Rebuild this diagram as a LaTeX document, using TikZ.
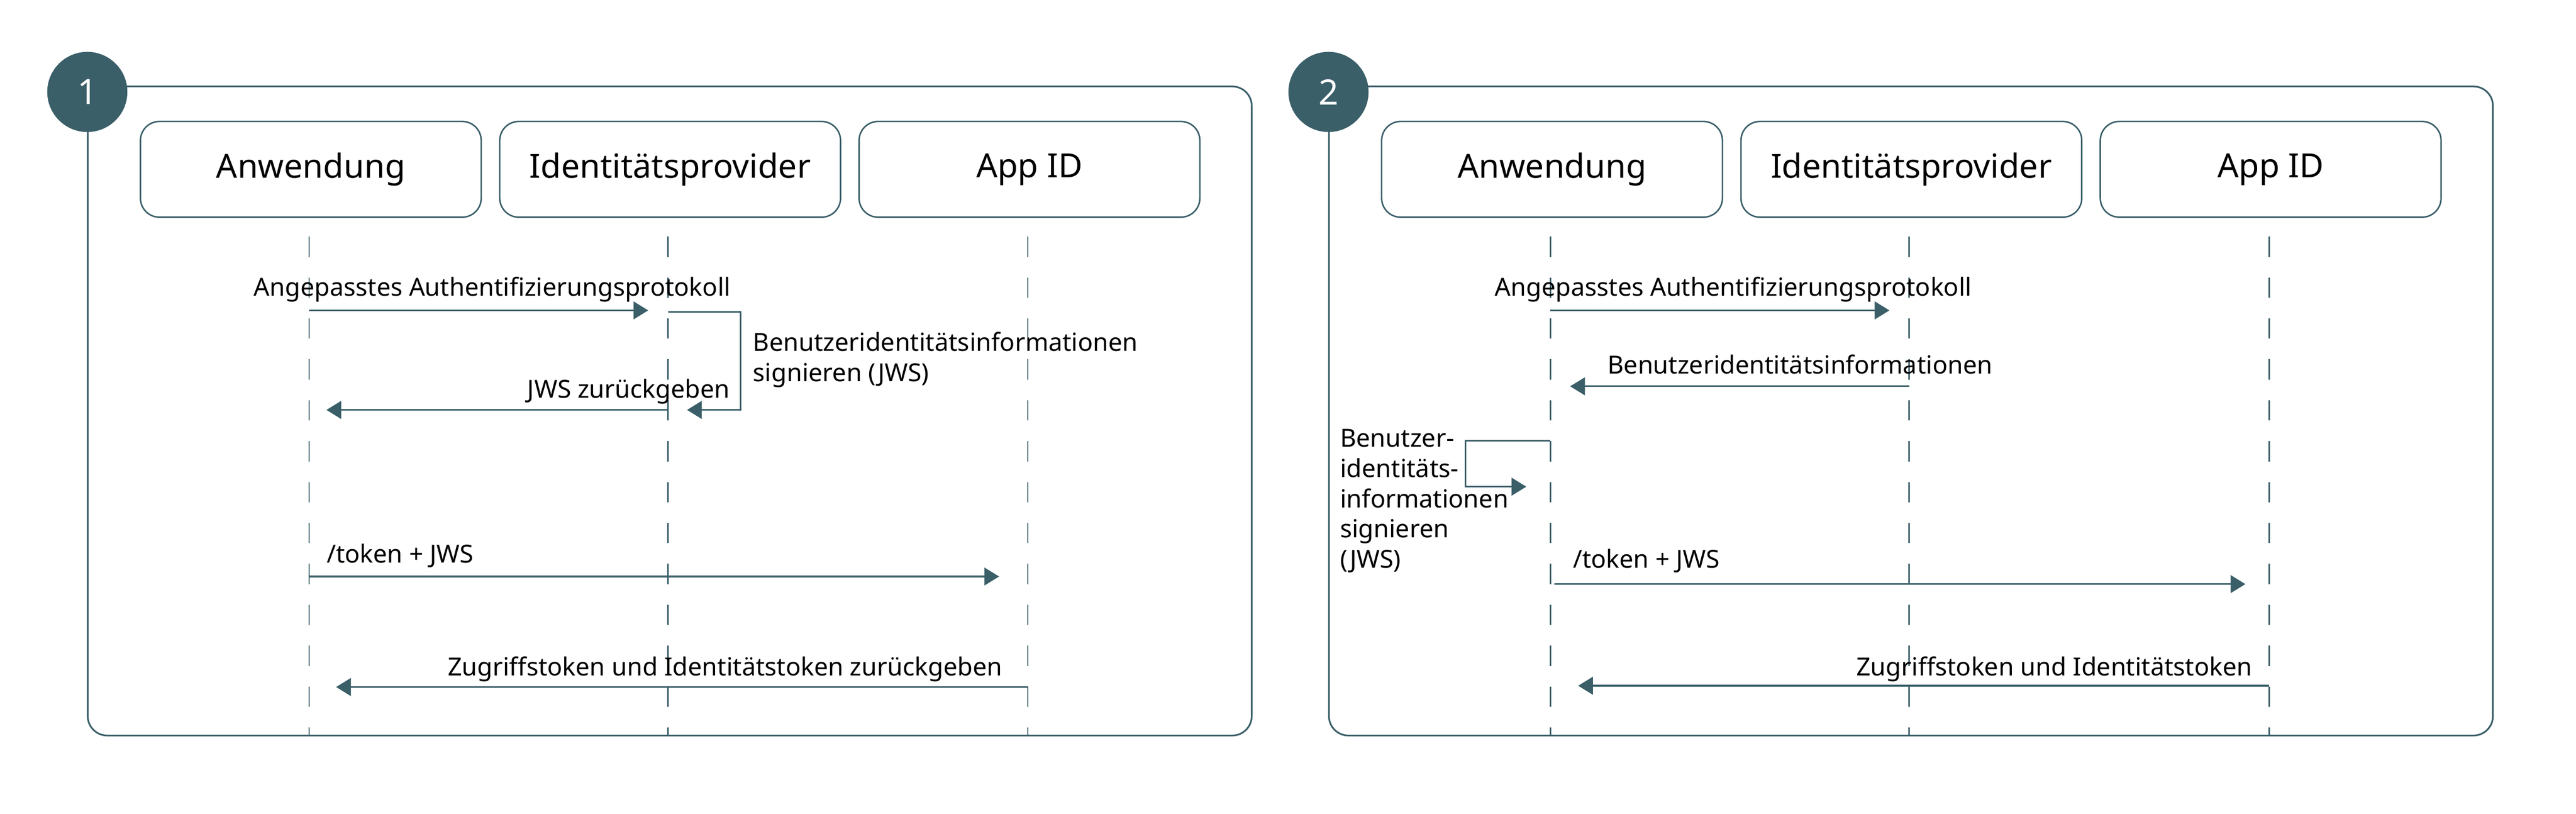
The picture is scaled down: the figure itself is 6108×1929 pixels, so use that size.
\documentclass[tikz,border=0pt]{standalone}
\usepackage{fontspec}
\setmainfont{Noto Sans}
\usetikzlibrary{arrows.meta}
\definecolor{slate}{HTML}{3A5F69}

\begin{document}
\begin{tikzpicture}[x=0.1mm,y=-0.1mm]

      \tikzset{panel/.style={draw=slate, line width=0.4mm, rounded corners=4.6mm, minimum width=276mm, minimum height=153.9mm},
               badge/.style={circle, fill=slate, inner sep=0pt, minimum size=19mm, text=white, font=\fontsize{23.6}{26}\selectfont},
               actor/.style={draw=slate, line width=0.35mm, rounded corners=4.5mm, minimum width=80.8mm, minimum height=22.7mm, font=\fontsize{22.4}{26}\selectfont},
               lifeline/.style={draw=slate, line width=0.35mm, dash pattern=on 4.8mm off 4.9mm},
               msg/.style={draw=slate, line width=0.4mm, -{Triangle[length=3.5mm, width=4.2mm]}},
               txt/.style={inner sep=0pt, font=\fontsize{16.8}{20.4}\selectfont}}
      \useasboundingbox (0,0) rectangle (6108,1929);

%% Panel 1
      	\node[panel] (frame1) at (1588,974.5) {};
      	\node[badge] (num1) at (207,218) {1};
      	\node[actor] (app1) at (737,401.5) {Anwendung};
      	\node[actor] (idp1) at (1589,401.5) {Identitätsprovider};
      	\node[actor] (aid1) at (2441,401.5) {App ID};
      	\coordinate (app1t) at (733,561);   \coordinate (app1b) at (733,1744);
      	\coordinate (idp1t) at (1584,561);  \coordinate (idp1b) at (1584,1744);
      	\coordinate (aid1t) at (2437,561);  \coordinate (aid1b) at (2437,1744);
      	\coordinate (p1m1s) at (733,736);   \coordinate (p1m1e) at (1537,736);
      	\coordinate (p1s1a) at (1584,740);  \coordinate (p1s1b) at (1756,740);
      	\coordinate (p1s1c) at (1756,972);  \coordinate (p1s1d) at (1629,972);
      	\coordinate (p1m2s) at (1584,972);  \coordinate (p1m2e) at (774,972);
      	\coordinate (p1m3s) at (733,1367);  \coordinate (p1m3e) at (2369,1367);
      	\coordinate (p1m4s) at (2437,1629); \coordinate (p1m4e) at (797,1629);
%Lifelines
		\path[lifeline] (app1t) edge (app1b);
		\path[lifeline] (idp1t) edge (idp1b);
		\path[lifeline] (aid1t) edge (aid1b);
%Messages
		\draw[msg] (p1m1s) -- (p1m1e);
		\node[txt, anchor=base] (p1t1) at (1167,702) {Angepasstes Authentifizierungsprotokoll};
		\draw[msg] (p1s1a) -- (p1s1b) -- (p1s1c) -- (p1s1d);
		\node[txt, anchor=base west, align=left] (p1t2) at (1785,904) {Benutzeridentitätsinformationen\\signieren (JWS)};
		\draw[msg] (p1m2s) -- (p1m2e);
		\node[txt, anchor=base east] (p1t3) at (1731,944) {JWS zurückgeben};
		\draw[msg] (p1m3s) -- (p1m3e);
		\node[txt, anchor=base west] (p1t4) at (774,1334) {/token + JWS};
		\draw[msg] (p1m4s) -- (p1m4e);
		\node[txt, anchor=base east] (p1t5) at (2377,1602) {Zugriffstoken und Identitätstoken zurückgeben};

%% Panel 2
      	\node[panel] (frame2) at (4531,974.5) {};
      	\node[badge] (num2) at (3150,218) {2};
      	\node[actor] (app2) at (3680,401.5) {Anwendung};
      	\node[actor] (idp2) at (4532,401.5) {Identitätsprovider};
      	\node[actor] (aid2) at (5384,401.5) {App ID};
      	\coordinate (app2t) at (3676,561);  \coordinate (app2b) at (3676,1744);
      	\coordinate (idp2t) at (4527,561);  \coordinate (idp2b) at (4527,1744);
      	\coordinate (aid2t) at (5380,561);  \coordinate (aid2b) at (5380,1744);
      	\coordinate (p2m1s) at (3676,736);  \coordinate (p2m1e) at (4480,736);
      	\coordinate (p2m2s) at (4527,916);  \coordinate (p2m2e) at (3723,916);
      	\coordinate (p2s1a) at (3676,1045); \coordinate (p2s1b) at (3475,1045);
      	\coordinate (p2s1c) at (3475,1154); \coordinate (p2s1d) at (3619,1154);
      	\coordinate (p2m3s) at (3686,1385); \coordinate (p2m3e) at (5324,1385);
      	\coordinate (p2m4s) at (5380,1626); \coordinate (p2m4e) at (3742,1626);
%Lifelines
		\path[lifeline] (app2t) edge (app2b);
		\path[lifeline] (idp2t) edge (idp2b);
		\path[lifeline] (aid2t) edge (aid2b);
%Messages
		\draw[msg] (p2m1s) -- (p2m1e);
		\node[txt, anchor=base] (p2t1) at (4110,702) {Angepasstes Authentifizierungsprotokoll};
		\draw[msg] (p2m2s) -- (p2m2e);
		\node[txt, anchor=base] (p2t2) at (4268,886) {Benutzeridentitätsinformationen};
		\draw[msg] (p2s1a) -- (p2s1b) -- (p2s1c) -- (p2s1d);
		\node[txt, anchor=base west, align=left] (p2t3) at (3177,1347) {Benutzer-\\identitäts-\\informationen\\signieren\\(JWS)};
		\draw[msg] (p2m3s) -- (p2m3e);
		\node[txt, anchor=base west] (p2t4) at (3729,1347) {/token + JWS};
		\draw[msg] (p2m4s) -- (p2m4e);
		\node[txt, anchor=base east] (p2t5) at (5341,1602) {Zugriffstoken und Identitätstoken};

	\end{tikzpicture}
\end{document}
